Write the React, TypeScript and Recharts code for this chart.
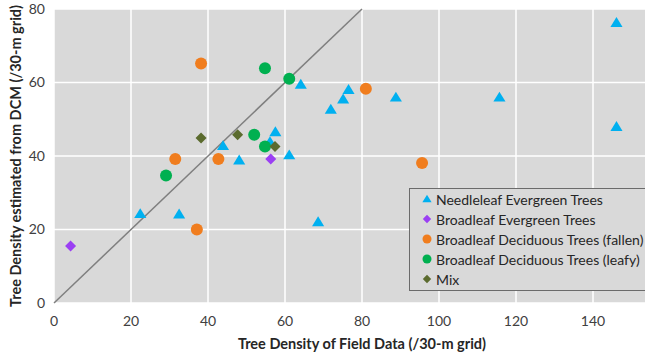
import { ScatterChart, Scatter, XAxis, YAxis, CartesianGrid, ReferenceLine, Legend } from 'recharts';

const needleleaf = [
  { x: 22.4, y: 24.3 }, { x: 32.5, y: 24.2 }, { x: 68.6, y: 22.1 }, { x: 43.9, y: 42.8 },
  { x: 48.1, y: 38.9 }, { x: 57.5, y: 46.6 }, { x: 56.1, y: 43.9 }, { x: 61.1, y: 40.3 },
  { x: 64.1, y: 59.5 }, { x: 71.9, y: 52.7 }, { x: 75.1, y: 55.5 }, { x: 76.5, y: 58.1 },
  { x: 88.8, y: 56.0 }, { x: 115.7, y: 56.0 }, { x: 146.1, y: 76.3 }, { x: 146.1, y: 48.0 },
];
const broadEvergreen = [{ x: 4.3, y: 15.5 }, { x: 56.3, y: 39.2 }];
const broadFallen = [
  { x: 38.2, y: 65.2 }, { x: 31.5, y: 39.2 }, { x: 42.7, y: 39.2 },
  { x: 37.1, y: 20.0 }, { x: 81.0, y: 58.3 }, { x: 95.6, y: 38.1 },
];
const broadLeafy = [
  { x: 54.8, y: 63.9 }, { x: 61.1, y: 61.0 }, { x: 52.0, y: 45.8 },
  { x: 54.8, y: 42.6 }, { x: 29.1, y: 34.7 },
];
const mix = [{ x: 38.2, y: 44.9 }, { x: 47.7, y: 45.8 }, { x: 57.4, y: 42.6 }];

// 160 sits just past the cropped right edge, so only these ticks show
const xTicks = [0, 20, 40, 60, 80, 100, 120, 140];
const yTicks = [0, 20, 40, 60, 80];

const seriesInfo = [
  { name: 'Needleleaf Evergreen Trees', color: '#00B0F0', kind: 'triangle' },
  { name: 'Broadleaf Evergreen Trees', color: '#9B3FF3', kind: 'diamond' },
  { name: 'Broadleaf Deciduous Trees (fallen)', color: '#F07D1E', kind: 'circle' },
  { name: 'Broadleaf Deciduous Trees (leafy)', color: '#00B050', kind: 'circle' },
  { name: 'Mix', color: '#5B6B2E', kind: 'diamond' },
];

const font = 'Lato, "Open Sans", sans-serif';

function markerPath(kind: string, cx: number, cy: number, r: number) {
  if (kind === 'triangle') {
    return `M${cx},${cy - r} L${cx + r * 1.1},${cy + r * 0.8} L${cx - r * 1.1},${cy + r * 0.8} Z`;
  }
  if (kind === 'diamond') {
    return `M${cx},${cy - r} L${cx + r},${cy} L${cx},${cy + r} L${cx - r},${cy} Z`;
  }
  return '';
}

function makeShape(kind: string, color: string) {
  return (props: any) => {
    const { cx, cy } = props;
    if (kind === 'circle') return <circle cx={cx} cy={cy} r={6} fill={color} />;
    return <path d={markerPath(kind, cx, cy, 5.5)} fill={color} />;
  };
}

function LegendBox() {
  return (
    <div style={{ background: '#d9d9d9', border: '1px solid #6b6b6b', width: 270, padding: '0 0 1px 0', fontFamily: font, fontSize: 14, color: '#262626' }}>
      {seriesInfo.map((s) => (
        <div key={s.name} style={{ display: 'flex', alignItems: 'center', height: 20, whiteSpace: 'nowrap' }}>
          <svg width={26} height={20} style={{ flex: 'none' }}>
            {s.kind === 'circle' ? (
              <circle cx={17} cy={10} r={4.5} fill={s.color} />
            ) : (
              <path d={markerPath(s.kind, 17, 10, 4.2)} fill={s.color} />
            )}
          </svg>
          <span>{s.name}</span>
        </div>
      ))}
    </div>
  );
}

export default function App() {
  const datasets = [needleleaf, broadEvergreen, broadFallen, broadLeafy, mix];
  return (
    <div style={{ position: 'fixed', left: 0, top: 0, width: 645, height: 354, overflow: 'hidden', background: '#fff' }}>
      <ScatterChart width={690} height={354} margin={{ top: 9, right: 20, bottom: 0, left: 0 }}>
        <CartesianGrid fill="#d9d9d9" stroke="#ffffff" strokeWidth={1.5} />
        <XAxis
          type="number"
          dataKey="x"
          domain={[0, 160]}
          ticks={xTicks}
          axisLine={false}
          tickLine={false}
          tickMargin={7}
          height={51}
          tick={{ fill: '#404040', fontSize: 14, fontFamily: font }}
          label={{ value: 'Tree Density of Field Data (/30-m grid)', position: 'insideBottom', offset: 5, fill: '#262626', fontSize: 14.5, fontWeight: 700, fontFamily: font }}
        />
        <YAxis
          type="number"
          dataKey="y"
          domain={[0, 80]}
          ticks={yTicks}
          axisLine={false}
          tickLine={false}
          tickMargin={3}
          width={54}
          tick={{ fill: '#404040', fontSize: 14, fontFamily: font }}
          label={{
            content: ({ viewBox }: any) => {
              const cx = 15;
              const cy = viewBox.y + viewBox.height / 2;
              return (
                <text x={cx} y={cy} transform={`rotate(-90, ${cx}, ${cy})`} textAnchor="middle" dominantBaseline="central" fill="#262626" fontSize={14.5} fontWeight={700} fontFamily={font}>
                  Tree Density estimated from DCM (/30-m grid)
                </text>
              );
            },
          }}
        />
        <ReferenceLine segment={[{ x: 0, y: 0 }, { x: 80, y: 80 }]} stroke="#7f7f7f" strokeWidth={1.5} ifOverflow="visible" />
        {seriesInfo.map((s, i) => (
          <Scatter key={s.name} name={s.name} data={datasets[i]} fill={s.color} shape={makeShape(s.kind, s.color)} isAnimationActive={false} />
        ))}
        <Legend
          layout="vertical"
          align="center"
          verticalAlign="middle"
          content={<LegendBox />}
          wrapperStyle={{ left: 409, top: 188, width: 272 }}
        />
      </ScatterChart>
    </div>
  );
}
